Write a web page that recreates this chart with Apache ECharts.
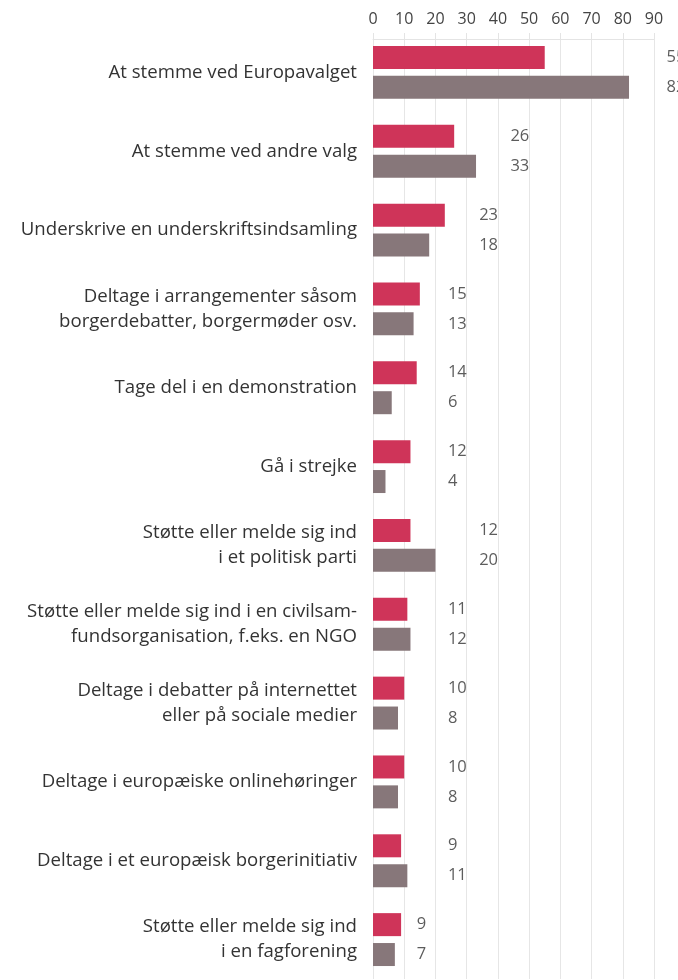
<!DOCTYPE html>
<html>
<head>
<meta charset="utf-8">
<script src="https://cdn.jsdelivr.net/npm/echarts@6/dist/echarts.min.js"></script>
<style>
  html, body { margin: 0; padding: 0; background: #fff; }
  #chart { width: 678px; height: 980px; }
</style>
</head>
<body>
<div id="chart"></div>
<script>
const kategorier = [
  "At stemme ved Europavalget",
  "At stemme ved andre valg",
  "Underskrive en underskriftsindsamling",
  "Deltage i arrangementer såsom\nborgerdebatter, borgermøder osv.",
  "Tage del i en demonstration",
  "Gå i strejke",
  "Støtte eller melde sig ind\ni et politisk parti",
  "Støtte eller melde sig ind i en civilsam-\nfundsorganisation, f.eks. en NGO",
  "Deltage i debatter på internettet\neller på sociale medier",
  "Deltage i europæiske onlinehøringer",
  "Deltage i et europæisk borgerinitiativ",
  "Støtte eller melde sig ind\ni en fagforening"
];
const serieA = [55, 26, 23, 15, 14, 12, 12, 11, 10, 10, 9, 9];
const serieB = [82, 33, 18, 13, 6, 4, 20, 12, 8, 8, 11, 7];
const akseTicks = [0, 10, 20, 30, 40, 50, 60, 70, 80, 90];

const fontFam = "'Open Sans', sans-serif";

// labels sit in the next-but-one column after the longest bar
const labelX = serieA.map((v, i) => Math.floor(Math.max(v, serieB[i]) / 10) * 10 + 14);

const grafico = echarts.init(document.getElementById("chart"));

function etiket(tal, dy) {
  return {
    type: "scatter",
    symbolSize: 0,
    clip: false,
    data: labelX.map((x, i) => [x, i]),
    label: {
      show: true,
      position: "right",
      distance: 0,
      offset: [0, dy],
      color: "#333",
      fontSize: 16.5,
      fontFamily: fontFam,
      formatter: p => tal[p.dataIndex]
    }
  };
}

grafico.setOption({
  animation: false,
  grid: { left: 373, right: 24, top: 33, bottom: 1 },
  xAxis: {
    type: "value",
    position: "top",
    min: akseTicks[0],
    max: akseTicks[akseTicks.length - 1],
    interval: 10,
    offset: -6,
    axisLine: { show: true, lineStyle: { color: "#e4e4e4", width: 1 } },
    axisTick: { show: true, length: 6, lineStyle: { color: "#e4e4e4" } },
    axisLabel: { color: "#444", fontSize: 16, fontFamily: fontFam, margin: 12 },
    splitLine: { show: true, lineStyle: { color: "#e6e6e6", width: 1 } }
  },
  yAxis: {
    type: "category",
    inverse: true,
    data: kategorier,
    axisLine: { show: false },
    axisTick: { show: false },
    axisLabel: {
      color: "#333",
      fontSize: 18.6,
      fontFamily: fontFam,
      lineHeight: 25,
      margin: 16,
      align: "right"
    }
  },
  series: [
    {
      type: "bar",
      data: serieA,
      barWidth: 23,
      barGap: "30%",
      itemStyle: { color: "#cf3459" }
    },
    {
      type: "bar",
      data: serieB,
      barWidth: 23,
      itemStyle: { color: "#87777a" }
    },
    etiket(serieA, -15),
    etiket(serieB, 15)
  ]
});
</script>
</body>
</html>
